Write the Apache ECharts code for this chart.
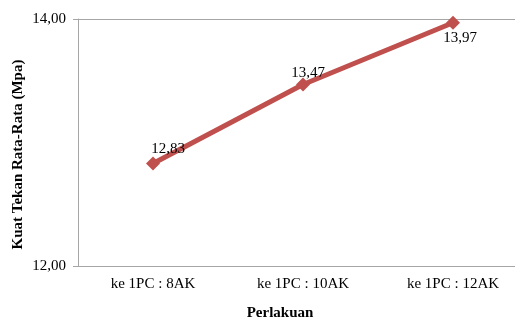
<!DOCTYPE html>
<html>
<head>
  <meta charset="utf-8">
  <script src="https://cdn.jsdelivr.net/npm/echarts@6/dist/echarts.min.js"></script>
  <style>
    * { margin: 0; padding: 0; }
    html, body, #chart { width: 515px; height: 322px; overflow: hidden; background: #fff; }
  </style>
</head>
<body>
  <div id="chart"></div>
  <script>
    // data
    var categories = ['ke 1PC : 8AK', 'ke 1PC : 10AK', 'ke 1PC : 12AK'];
    var kuatTekan = [12.83, 13.47, 13.97];
    var yTicks = [12, 14];

    var serif = 'Liberation Serif';
    var labelPos = [
      { offset: [15, 5], position: 'top' },
      { offset: [5, 8], position: 'top' },
      { offset: [7, -4], position: 'bottom' }
    ];

    var chart = echarts.init(document.getElementById('chart'));
    chart.setOption({
      animation: false,
      grid: { left: 78, top: 19, width: 450, height: 247, outerBoundsMode: 'none', containLabel: false },
      xAxis: {
        type: 'category',
        data: categories,
        name: 'Perlakuan',
        nameLocation: 'middle',
        nameGap: 40,
        nameTextStyle: { fontFamily: serif, fontWeight: 'bold', fontSize: 15, color: '#000', padding: [0, 0, 0, -46] },
        axisLine: { lineStyle: { color: '#a6a6a6', width: 1 } },
        axisTick: { show: false },
        axisLabel: { fontFamily: serif, fontSize: 15, color: '#000', margin: 11 }
      },
      yAxis: {
        type: 'value',
        min: yTicks[0],
        max: yTicks[1],
        interval: yTicks[1] - yTicks[0],
        name: 'Kuat Tekan Rata-Rata (Mpa)',
        nameLocation: 'middle',
        nameGap: 52,
        nameMoveOverlap: false,
        nameRotate: 90,
        nameTextStyle: { fontFamily: serif, fontWeight: 'bold', fontSize: 15, color: '#000', padding: [0, 24, 0, 0] },
        axisLine: { show: true, lineStyle: { color: '#a6a6a6', width: 1 } },
        axisTick: { show: true, length: 5, lineStyle: { color: '#a6a6a6' } },
        splitLine: { lineStyle: { color: '#a6a6a6', width: 1 } },
        axisLabel: {
          fontFamily: serif, fontSize: 15, color: '#000', margin: 12,
          formatter: function (v) { return v.toFixed(2).replace('.', ','); }
        }
      },
      series: [{
        type: 'line',
        data: kuatTekan.map(function (v, i) {
          return {
            value: v,
            label: { position: labelPos[i].position, offset: labelPos[i].offset }
          };
        }),
        symbol: 'diamond',
        symbolSize: 14,
        lineStyle: { color: '#c0504d', width: 5 },
        itemStyle: { color: '#c0504d' },
        label: {
          show: true,
          fontFamily: serif,
          fontSize: 15,
          color: '#000',
          formatter: function (p) { return p.value.toFixed(2).replace('.', ','); }
        }
      }]
    });
  </script>
</body>
</html>
